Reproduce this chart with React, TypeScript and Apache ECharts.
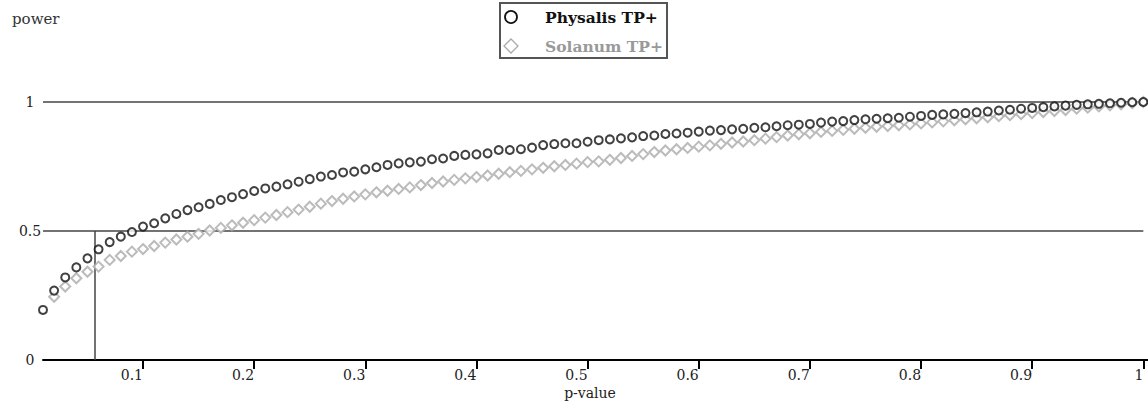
import React, { useEffect, useRef } from "react";
import * as echarts from "echarts";

const pValues = [
  0.01, 0.02, 0.03, 0.04, 0.05, 0.06, 0.07, 0.08, 0.09, 0.1,
  0.11, 0.12, 0.13, 0.14, 0.15, 0.16, 0.17, 0.18, 0.19, 0.2,
  0.21, 0.22, 0.23, 0.24, 0.25, 0.26, 0.27, 0.28, 0.29, 0.3,
  0.31, 0.32, 0.33, 0.34, 0.35, 0.36, 0.37, 0.38, 0.39, 0.4,
  0.41, 0.42, 0.43, 0.44, 0.45, 0.46, 0.47, 0.48, 0.49, 0.5,
  0.51, 0.52, 0.53, 0.54, 0.55, 0.56, 0.57, 0.58, 0.59, 0.6,
  0.61, 0.62, 0.63, 0.64, 0.65, 0.66, 0.67, 0.68, 0.69, 0.7,
  0.71, 0.72, 0.73, 0.74, 0.75, 0.76, 0.77, 0.78, 0.79, 0.8,
  0.81, 0.82, 0.83, 0.84, 0.85, 0.86, 0.87, 0.88, 0.89, 0.9,
  0.91, 0.92, 0.93, 0.94, 0.95, 0.96, 0.97, 0.98, 0.99, 1.0,
];

const physalisPower = [
  0.194, 0.269, 0.32, 0.359, 0.394, 0.429, 0.457, 0.478, 0.496, 0.517,
  0.53, 0.549, 0.566, 0.581, 0.592, 0.605, 0.62, 0.631, 0.643, 0.655,
  0.665, 0.672, 0.681, 0.691, 0.701, 0.711, 0.717, 0.727, 0.73, 0.739,
  0.747, 0.756, 0.762, 0.766, 0.769, 0.778, 0.781, 0.791, 0.795, 0.797,
  0.801, 0.814, 0.814, 0.817, 0.823, 0.833, 0.837, 0.84, 0.84, 0.846,
  0.852, 0.855, 0.859, 0.863, 0.868, 0.87, 0.876, 0.878, 0.881, 0.885,
  0.889, 0.891, 0.894, 0.896, 0.9, 0.902, 0.906, 0.91, 0.912, 0.915,
  0.92, 0.924, 0.926, 0.93, 0.933, 0.935, 0.937, 0.939, 0.943, 0.946,
  0.95, 0.952, 0.954, 0.957, 0.96, 0.963, 0.967, 0.97, 0.974, 0.977,
  0.98, 0.983, 0.986, 0.989, 0.991, 0.993, 0.995, 0.997, 0.999, 1.0,
];

const solanumPower = [
  null, 0.245, 0.285, 0.317, 0.342, 0.362, 0.388, 0.403, 0.42, 0.43,
  0.442, 0.455, 0.467, 0.478, 0.489, 0.502, 0.512, 0.522, 0.532, 0.542,
  0.552, 0.562, 0.573, 0.583, 0.594, 0.606, 0.616, 0.625, 0.634, 0.642,
  0.65, 0.656, 0.663, 0.669, 0.678, 0.686, 0.692, 0.698, 0.704, 0.709,
  0.715, 0.722, 0.728, 0.733, 0.739, 0.745, 0.751, 0.756, 0.761, 0.767,
  0.77, 0.776, 0.783, 0.791, 0.798, 0.806, 0.812, 0.817, 0.822, 0.827,
  0.832, 0.838, 0.843, 0.847, 0.852, 0.858, 0.864, 0.87, 0.875, 0.879,
  0.884, 0.888, 0.892, 0.896, 0.9, 0.904, 0.907, 0.91, 0.913, 0.917,
  0.921, 0.925, 0.929, 0.933, 0.937, 0.941, 0.945, 0.949, 0.953, 0.957,
  0.961, 0.965, 0.969, 0.974, 0.978, 0.983, 0.987, 0.991, 0.996, 1.0,
];

const xTickValues = [0.1, 0.2, 0.3, 0.4, 0.5, 0.6, 0.7, 0.8, 0.9, 1];
const referencePowers = [0.5, 1];
const cutoffP = 0.0565;
const cutoffPower = 0.5;

const seriesNames = ["Physalis TP+", "Solanum TP+"];
const xTitle = "p-value";
const yTitle = "power";

const FONT = "'DejaVu Serif', serif";

export default function App() {
  const ref = useRef<HTMLDivElement>(null);

  useEffect(() => {
    document.body.style.margin = "0";
    const chart = echarts.init(ref.current!, null, { renderer: "svg" });

    const physData = pValues.map((p, i) => [p, physalisPower[i]]);
    const solData = pValues
      .map((p, i) => [p, solanumPower[i]])
      .filter((d) => d[1] !== null);

    const markLines: any[] = referencePowers.map((v) => [
      { coord: [pValues[0], v] },
      { coord: [pValues[pValues.length - 1], v] },
    ]);
    markLines.push([{ coord: [cutoffP, 0] }, { coord: [cutoffP, cutoffPower] }]);

    chart.setOption({
      animation: false,
      backgroundColor: "#fff",
      grid: {
        left: 43,
        right: 0,
        top: 102,
        bottom: 42,
        containLabel: false,
        outerBoundsMode: "none",
      },
      xAxis: {
        type: "value",
        min: 0.01,
        max: 1.0042,
        axisLine: { lineStyle: { color: "#000", width: 2 } },
        axisTick: {
          customValues: xTickValues,
          length: 9,
          lineStyle: { color: "#000", width: 2 },
        },
        axisLabel: {
          customValues: xTickValues,
          align: "right",
          margin: 7,
          fontFamily: FONT,
          fontSize: 14,
          lineHeight: 15,
          color: "#222",
          formatter: (v: number) => String(v),
        },
        splitLine: { show: false },
      },
      yAxis: {
        type: "value",
        min: 0,
        max: 1,
        interval: 0.5,
        axisLine: { show: false },
        axisTick: { show: false },
        splitLine: { show: false },
        axisLabel: {
          align: "center",
          margin: 13,
          fontFamily: FONT,
          fontSize: 14,
          color: "#222",
          verticalAlign: "middle",
          padding: [0, 0, 12, 0],
          formatter: (v: number) => String(v),
        },
      },
      graphic: [
        {
          type: "text",
          left: 12,
          top: 11,
          style: { text: yTitle, font: `15px ${FONT}`, fill: "#333" },
        },
        {
          type: "text",
          x: 590,
          y: 393,
          style: {
            text: xTitle,
            font: `14px ${FONT}`,
            lineHeight: 14,
            fill: "#222",
            align: "center",
            verticalAlign: "middle",
          },
        },
        {
          type: "rect",
          shape: { x: 500, y: 3, width: 167, height: 55 },
          style: { fill: "#fff", stroke: "#555", lineWidth: 2 },
          z: 10,
        },
        {
          type: "circle",
          shape: { cx: 511, cy: 17, r: 6 },
          style: { fill: "#fff", stroke: "#111", lineWidth: 1.8 },
          z: 11,
        },
        {
          type: "polygon",
          shape: { points: [[511, 39], [518, 46], [511, 53], [504, 46]] },
          style: { fill: "#fff", stroke: "#aaa", lineWidth: 1.3 },
          z: 11,
        },
        {
          type: "text",
          x: 545,
          y: 17,
          style: {
            text: seriesNames[0],
            font: `bold 15.5px ${FONT}`,
            fill: "#111",
            verticalAlign: "middle",
          },
          z: 11,
        },
        {
          type: "text",
          x: 545,
          y: 46,
          style: {
            text: seriesNames[1],
            font: `bold 15.5px ${FONT}`,
            fill: "#999",
            verticalAlign: "middle",
          },
          z: 11,
        },
      ],
      series: [
        {
          name: seriesNames[1],
          type: "scatter",
          data: solData,
          symbol: "emptyDiamond",
          symbolSize: 10,
          clip: false,
          itemStyle: { color: "#aaa", borderWidth: 1.2 },
          z: 2,
        },
        {
          name: seriesNames[0],
          type: "scatter",
          data: physData,
          symbol: "emptyCircle",
          symbolSize: 8,
          clip: false,
          itemStyle: { color: "#111", borderWidth: 1.8 },
          z: 3,
          markLine: {
            silent: true,
            symbol: "none",
            label: { show: false },
            lineStyle: { color: "#444", width: 1.5, type: "solid" },
            data: markLines,
            z: 1,
          },
        },
      ],
    });

    return () => chart.dispose();
  }, []);

  return <div ref={ref} style={{ width: 1148, height: 402 }} />;
}
